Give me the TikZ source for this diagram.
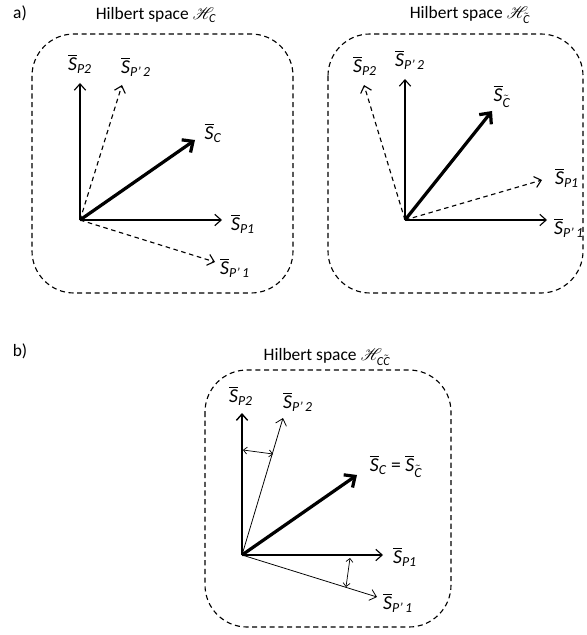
\documentclass[tikz,border=0pt]{standalone}
\usepackage{amsmath}
\usepackage{mathrsfs}
\usepackage{fontspec}
\setmainfont{Carlito}
\usetikzlibrary{arrows.meta}

% vector label: overlined italic S with a subscript
\newcommand{\svec}[1]{$\overline{\textit{S}}_{#1}$}
\newcommand{\hsp}[1]{Hilbert space $\mathscr{H}_{#1}$}
\newcommand{\ct}{\tilde{\textit{C}}}

\begin{document}
\begin{tikzpicture}[
  x=0.025cm, y=-0.025cm,
  lbl/.style={inner sep=0pt, font=\fontsize{14}{16}\selectfont},
  ttl/.style={inner sep=0pt, font=\fontsize{12.4}{14}\selectfont},
  hbox/.style={draw, dash pattern=on 3.6pt off 2.6pt, line width=0.8pt, rounded corners=1.05cm},
  vec/.style={-{Straight Barb[length=4.5pt,width=8pt]}, line width=0.8pt},
  dvec/.style={vec, dash pattern=on 3.2pt off 2.6pt},
  bvec/.style={-{Straight Barb[length=6pt,width=11pt]}, line width=2.3pt},
  tvec/.style={-{Straight Barb[length=4.5pt,width=8pt]}, line width=0.55pt},
  gap/.style={{Straight Barb[length=2.5pt,width=5pt]}-{Straight Barb[length=2.5pt,width=5pt]}, line width=0.5pt}
]
\useasboundingbox (0,0) rectangle (586,635);

% panel a, left
\node[ttl] (pa) at (20,13) {a)};
\node[ttl] (ta) at (156,15) {\hsp{\textit{C}}};
\draw[hbox] (32,34) rectangle (293,293);
\coordinate (oa) at (80,220);
\coordinate (ea2) at (80,83);
\coordinate (ea2p) at (122,85);
\coordinate (eac) at (195,140);
\coordinate (ea1) at (222,220);
\coordinate (ea1p) at (215,262);
\node[lbl] (la2) at (80,64) {\svec{\textit{P2}}};
\node[lbl] (la2p) at (136,67) {\svec{\textit{P’\,2}}};
\node[lbl] (lac) at (213,133) {\svec{\textit{C}}};
\node[lbl] (la1) at (243,224) {\svec{\textit{P1}}};
\node[lbl] (la1p) at (235,268) {\svec{\textit{P’\,1}}};
\draw[vec] (oa) -- (ea2);
\draw[dvec] (oa) -- (ea2p);
\draw[bvec] (oa) -- (eac);
\draw[vec] (oa) -- (ea1);
\draw[dvec] (oa) -- (ea1p);

% panel a, right
\node[ttl] (tb) at (470,15) {\hsp{\ct}};
\draw[hbox] (328,34) rectangle (583,293);
\coordinate (ob) at (405,220);
\coordinate (eb2) at (364,85);
\coordinate (eb2p) at (405,79);
\coordinate (ebc) at (492,111);
\coordinate (eb1) at (542,180);
\coordinate (eb1p) at (547,220);
\node[lbl] (lb2) at (365,66) {\svec{\textit{P2}}};
\node[lbl] (lb2p) at (410,60) {\svec{\textit{P’\,2}}};
\node[lbl] (lbc) at (502,96) {\svec{\ct}};
\node[lbl] (lb1) at (567,178) {\svec{\textit{P1}}};
\node[lbl] (lb1p) at (569,228) {\svec{\textit{P’\,1}}};
\draw[dvec] (ob) -- (eb2);
\draw[vec] (ob) -- (eb2p);
\draw[bvec] (ob) -- (ebc);
\draw[dvec] (ob) -- (eb1);
\draw[vec] (ob) -- (eb1p);

% panel b
\node[ttl] (pb) at (20,351) {b)};
\node[ttl] (tc) at (327,357) {\hsp{\textit{C}\ct}};
\draw[hbox] (205,370) rectangle (451,627);
\coordinate (oc) at (242,555);
\coordinate (ec2) at (242,413);
\coordinate (ec2p) at (283,418);
\coordinate (ecc) at (357,475);
\coordinate (ec1) at (383,555);
\coordinate (ec1p) at (377,597);
\node[lbl] (lc2) at (241,396) {\svec{\textit{P2}}};
\node[lbl] (lc2p) at (298,402) {\svec{\textit{P’\,2}}};
\node[lbl] (lcc) at (396,466) {\svec{\textit{C}} = \svec{\ct}};
\node[lbl] (lc1) at (405,557) {\svec{\textit{P1}}};
\node[lbl] (lc1p) at (398,603) {\svec{\textit{P’\,1}}};
\draw[vec, line width=1pt] (oc) -- (ec2);
\draw[tvec] (oc) -- (ec2p);
\draw[bvec] (oc) -- (ecc);
\draw[vec] (oc) -- (ec1);
\draw[tvec] (oc) -- (ec1p);
% angle markers
\coordinate (ga1) at (243,450);
\coordinate (ga2) at (273,454);
\coordinate (gb1) at (350,558);
\coordinate (gb2) at (346,587);
\draw[gap] (ga1) -- (ga2);
\draw[gap] (gb1) -- (gb2);
\end{tikzpicture}
\end{document}
